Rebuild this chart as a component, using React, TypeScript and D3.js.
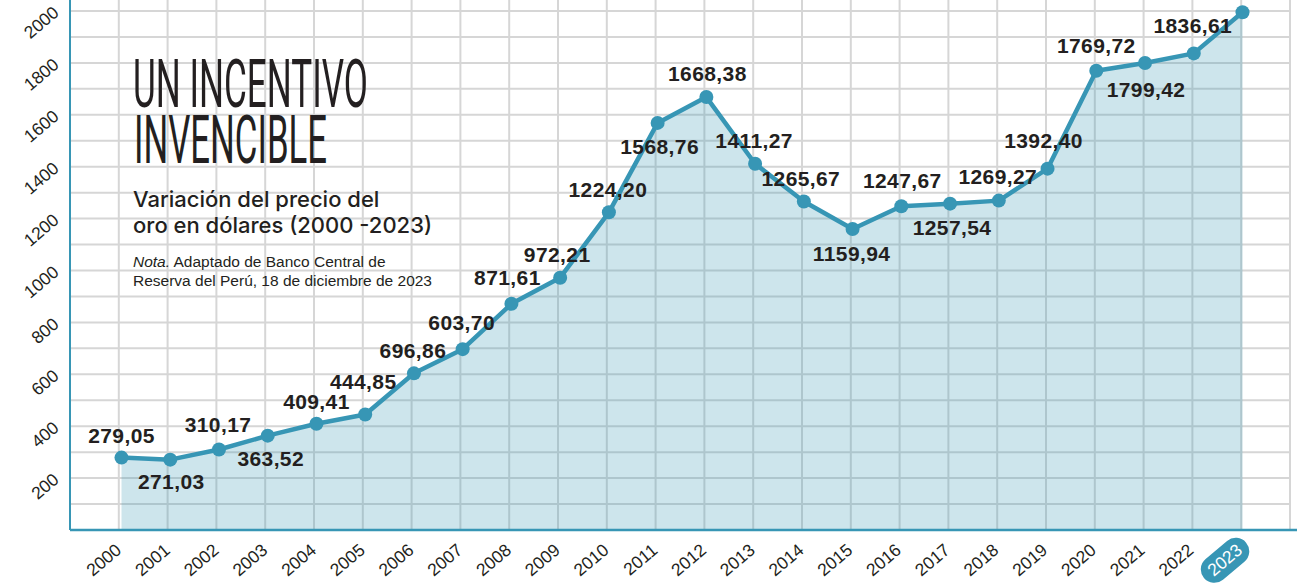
import React from 'react'
import * as d3 from 'd3'

// precio del oro (USD), 2000 - 2023
const years = ['2000', '2001', '2002', '2003', '2004', '2005', '2006', '2007', '2008', '2009', '2010', '2011',
  '2012', '2013', '2014', '2015', '2016', '2017', '2018', '2019', '2020', '2021', '2022', '2023']

const prices = [279.05, 271.03, 310.17, 363.52, 409.41, 444.85, 603.70, 696.86, 871.61, 972.21, 1224.20, 1568.76,
  1668.38, 1411.27, 1265.67, 1159.94, 1247.67, 1257.54, 1269.27, 1392.40, 1769.72, 1799.42, 1836.61, 1995]

// labels as printed next to each point
const priceLabels = ['279,05', '271,03', '310,17', '363,52', '409,41', '444,85', '696,86', '603,70', '871,61', '972,21',
  '1224,20', '1568,76', '1668,38', '1411,27', '1265,67', '1159,94', '1247,67', '1257,54', '1269,27', '1392,40',
  '1769,72', '1799,42', '1836,61', '']

const yTicks = [200, 400, 600, 800, 1000, 1200, 1400, 1600, 1800, 2000]

// label placement relative to its point [dx, dy]
const labelOffsets = [[0, -15], [1, 29], [-1, -18], [3, 30], [0, -15], [-2, -26], [-1, -15], [-1, -19], [-4, -19],
  [-3, -16], [-1, -15], [2, 31], [1, -16], [-1, -16], [-3, -16], [-1, 32], [1, -18], [2, 31], [-1, -17], [-4, -21],
  [0, -18], [1, 34], [-1, -20], [0, 0]]

const W = 1297
const H = 587
const teal = '#3796b5'
const ink = '#231f20'

export default function App() {
  const x = d3.scalePoint().domain(years).range([121.5, 1242.5])
  const y = d3.scaleLinear().domain([0, 2000]).range([530, 11])
  const gridX = d3.scaleLinear().domain([-1, 24]).range([70, 1290])
  const left = gridX(-1)
  const bottom = y(0)

  const rows = y.ticks(20).filter(d => d > 0)
  const cols = d3.range(0, 25)

  const pts = years.map((yr, i) => ({ yr, v: prices[i], i }))

  const line = d3.line<any>().x(d => x(d.yr)!).y(d => y(d.v))
  const area = d3.area<any>().x(d => x(d.yr)!).y0(bottom).y1(d => y(d.v))

  const tickFont = { fontFamily: 'Liberation Sans, Arial, sans-serif', fontSize: 17.5, fill: ink }

  return (
    <svg width={W} height={H} style={{ position: 'absolute', left: 0, top: 0, background: '#fff' }}>
      {/* grid */}
      <g stroke="#d6d6d6" strokeWidth={2}>
        {rows.map(r => <line key={'r' + r} x1={left} x2={gridX(24)} y1={y(r)} y2={y(r)} />)}
        {cols.map(c => <line key={'c' + c} x1={gridX(c)} x2={gridX(c)} y1={0} y2={bottom} />)}
      </g>

      {/* area + line */}
      <path d={area(pts)!} fill={teal} fillOpacity={0.25} />
      <path d={line(pts)!} fill="none" stroke={teal} strokeWidth={4.5} strokeLinejoin="round" />
      {pts.map(p => <circle key={p.yr} cx={x(p.yr)} cy={y(p.v)} r={7} fill={teal} />)}

      {/* axes */}
      <line x1={left} x2={left} y1={0} y2={bottom} stroke={teal} strokeWidth={2} />
      <line x1={left} x2={W} y1={bottom} y2={bottom} stroke={teal} strokeWidth={2.5} />

      {/* y tick labels */}
      {yTicks.map(t => (
        <text key={t} transform={`translate(60,${y(t) + 3.5}) rotate(-40)`} textAnchor="end" {...tickFont}>{t}</text>
      ))}

      {/* x tick labels */}
      {years.map((yr, i) => {
        const last = i === years.length - 1
        return (
          <g key={yr} transform={`translate(${x(yr)! + 1},552) rotate(-40)`}>
            {last && <rect x={-47} y={-19} width={55} height={27} rx={13.5} fill={teal} />}
            <text textAnchor="end" {...tickFont} fill={last ? '#fff' : ink}>{yr}</text>
          </g>
        )
      })}

      {/* value labels */}
      {pts.map(p => (
        <text key={'l' + p.yr} x={x(p.yr)! + labelOffsets[p.i][0]} y={y(p.v) + labelOffsets[p.i][1]}
          textAnchor="middle" fontFamily="Liberation Sans, Arial, sans-serif" fontWeight={700}
          fontSize={21} letterSpacing={0.4} fill={ink}>{priceLabels[p.i]}</text>
      ))}

      {/* title block */}
      <g fill={ink}>
        <text x={133} y={106.5} fontFamily="Roboto, sans-serif" fontWeight={400} fontSize={66}
          textLength={235} lengthAdjust="spacingAndGlyphs">UN INCENTIVO</text>
        <text x={134} y={163} fontFamily="Roboto, sans-serif" fontWeight={400} fontSize={66}
          textLength={193} lengthAdjust="spacingAndGlyphs">INVENCIBLE</text>
        <text x={133} y={206.5} fontFamily="Inter, sans-serif" fontWeight={500} fontSize={22}>Variación del precio del</text>
        <text x={133} y={232.5} fontFamily="Inter, sans-serif" fontWeight={500} fontSize={22}>oro en dólares (2000 -2023)</text>
        <text x={133} y={267} fontFamily="Liberation Sans, Arial, sans-serif" fontSize={15.5}>
          <tspan fontStyle="italic">Nota.</tspan> Adaptado de Banco Central de
        </text>
        <text x={133} y={285.5} fontFamily="Liberation Sans, Arial, sans-serif" fontSize={15.5}>
          Reserva del Perú, 18 de diciembre de 2023
        </text>
      </g>
    </svg>
  )
}
